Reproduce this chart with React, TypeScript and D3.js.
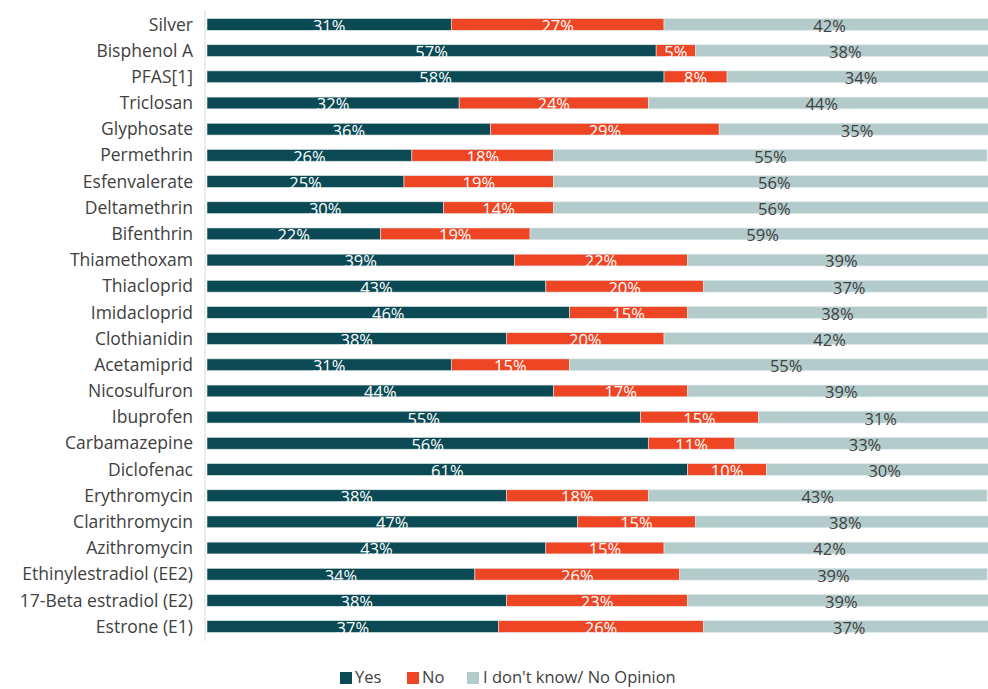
import React from "react";
import * as d3 from "d3";

const categories = [
  "Silver", "Bisphenol A", "PFAS[1]", "Triclosan", "Glyphosate", "Permethrin",
  "Esfenvalerate", "Deltamethrin", "Bifenthrin", "Thiamethoxam", "Thiacloprid",
  "Imidacloprid", "Clothianidin", "Acetamiprid", "Nicosulfuron", "Ibuprofen",
  "Carbamazepine", "Diclofenac", "Erythromycin", "Clarithromycin", "Azithromycin",
  "Ethinylestradiol (EE2)", "17-Beta estradiol (E2)", "Estrone (E1)",
];
const yesValues = [31, 57, 58, 32, 36, 26, 25, 30, 22, 39, 43, 46, 38, 31, 44, 55, 56, 61, 38, 47, 43, 34, 38, 37];
const noValues = [27, 5, 8, 24, 29, 18, 19, 14, 19, 22, 20, 15, 20, 15, 17, 15, 11, 10, 18, 15, 15, 26, 23, 26];
const dkValues = [42, 38, 34, 44, 35, 55, 56, 56, 59, 39, 37, 38, 42, 55, 39, 31, 33, 30, 43, 38, 42, 39, 39, 37];
const seriesNames = ["Yes", "No", "I don't know/ No Opinion"];
const colors = ["#0b4a55", "#ee4524", "#b3cbcb"];
const labelColors = ["#ffffff", "#ffffff", "#404040"];

const W = 988, H = 689;
const left = 207, right = 995;
const FONT = "'Open Sans', Lato, sans-serif";

export default function App() {
  const x = d3.scaleLinear().domain([0, 100]).range([left, right]);
  const y = d3.scaleBand().domain(categories).range([12, 639]).paddingInner(0.55).paddingOuter(0.25);
  const series = [yesValues, noValues, dkValues];
  const bh = y.bandwidth();

  return (
    <svg width={W} height={H} style={{ position: "absolute", left: 0, top: 0, background: "#fff" }} fontFamily={FONT}>
      <line x1={205} x2={205} y1={10} y2={641} stroke="#d9d9d9" strokeWidth={1} />
      {categories.map((c, i) => {
        let acc = 0;
        const yy = y(c)!;
        return (
          <g key={c}>
            <text x={193} y={yy + bh / 2} dy="0.35em" textAnchor="end" fontSize={17.5} fill="#404040">{c}</text>
            {series.map((s, k) => {
              const v = s[i];
              const x0 = x(acc);
              const x1 = x(acc + v);
              acc += v;
              return (
                <g key={k}>
                  <rect x={x0} y={yy} width={Math.max(0, x1 - x0)} height={bh} fill={colors[k]} stroke="#dfe9ea" strokeWidth={0.6} />
                  <text x={(x0 + x1) / 2} y={yy + bh / 2} dy="0.45em" textAnchor="middle" fontSize={16.5} fill={labelColors[k]}>{v}%</text>
                </g>
              );
            })}
          </g>
        );
      })}
      {(() => {
        const items = [{ x: 340, tx: 355 }, { x: 407, tx: 422 }, { x: 467, tx: 483 }];
        return seriesNames.map((n, k) => (
          <g key={n}>
            <rect x={items[k].x} y={672} width={12} height={12} fill={colors[k]} />
            <text x={items[k].tx} y={677} dy="0.36em" fontSize={16.5} fill="#404040">{n}</text>
          </g>
        ));
      })()}
    </svg>
  );
}
